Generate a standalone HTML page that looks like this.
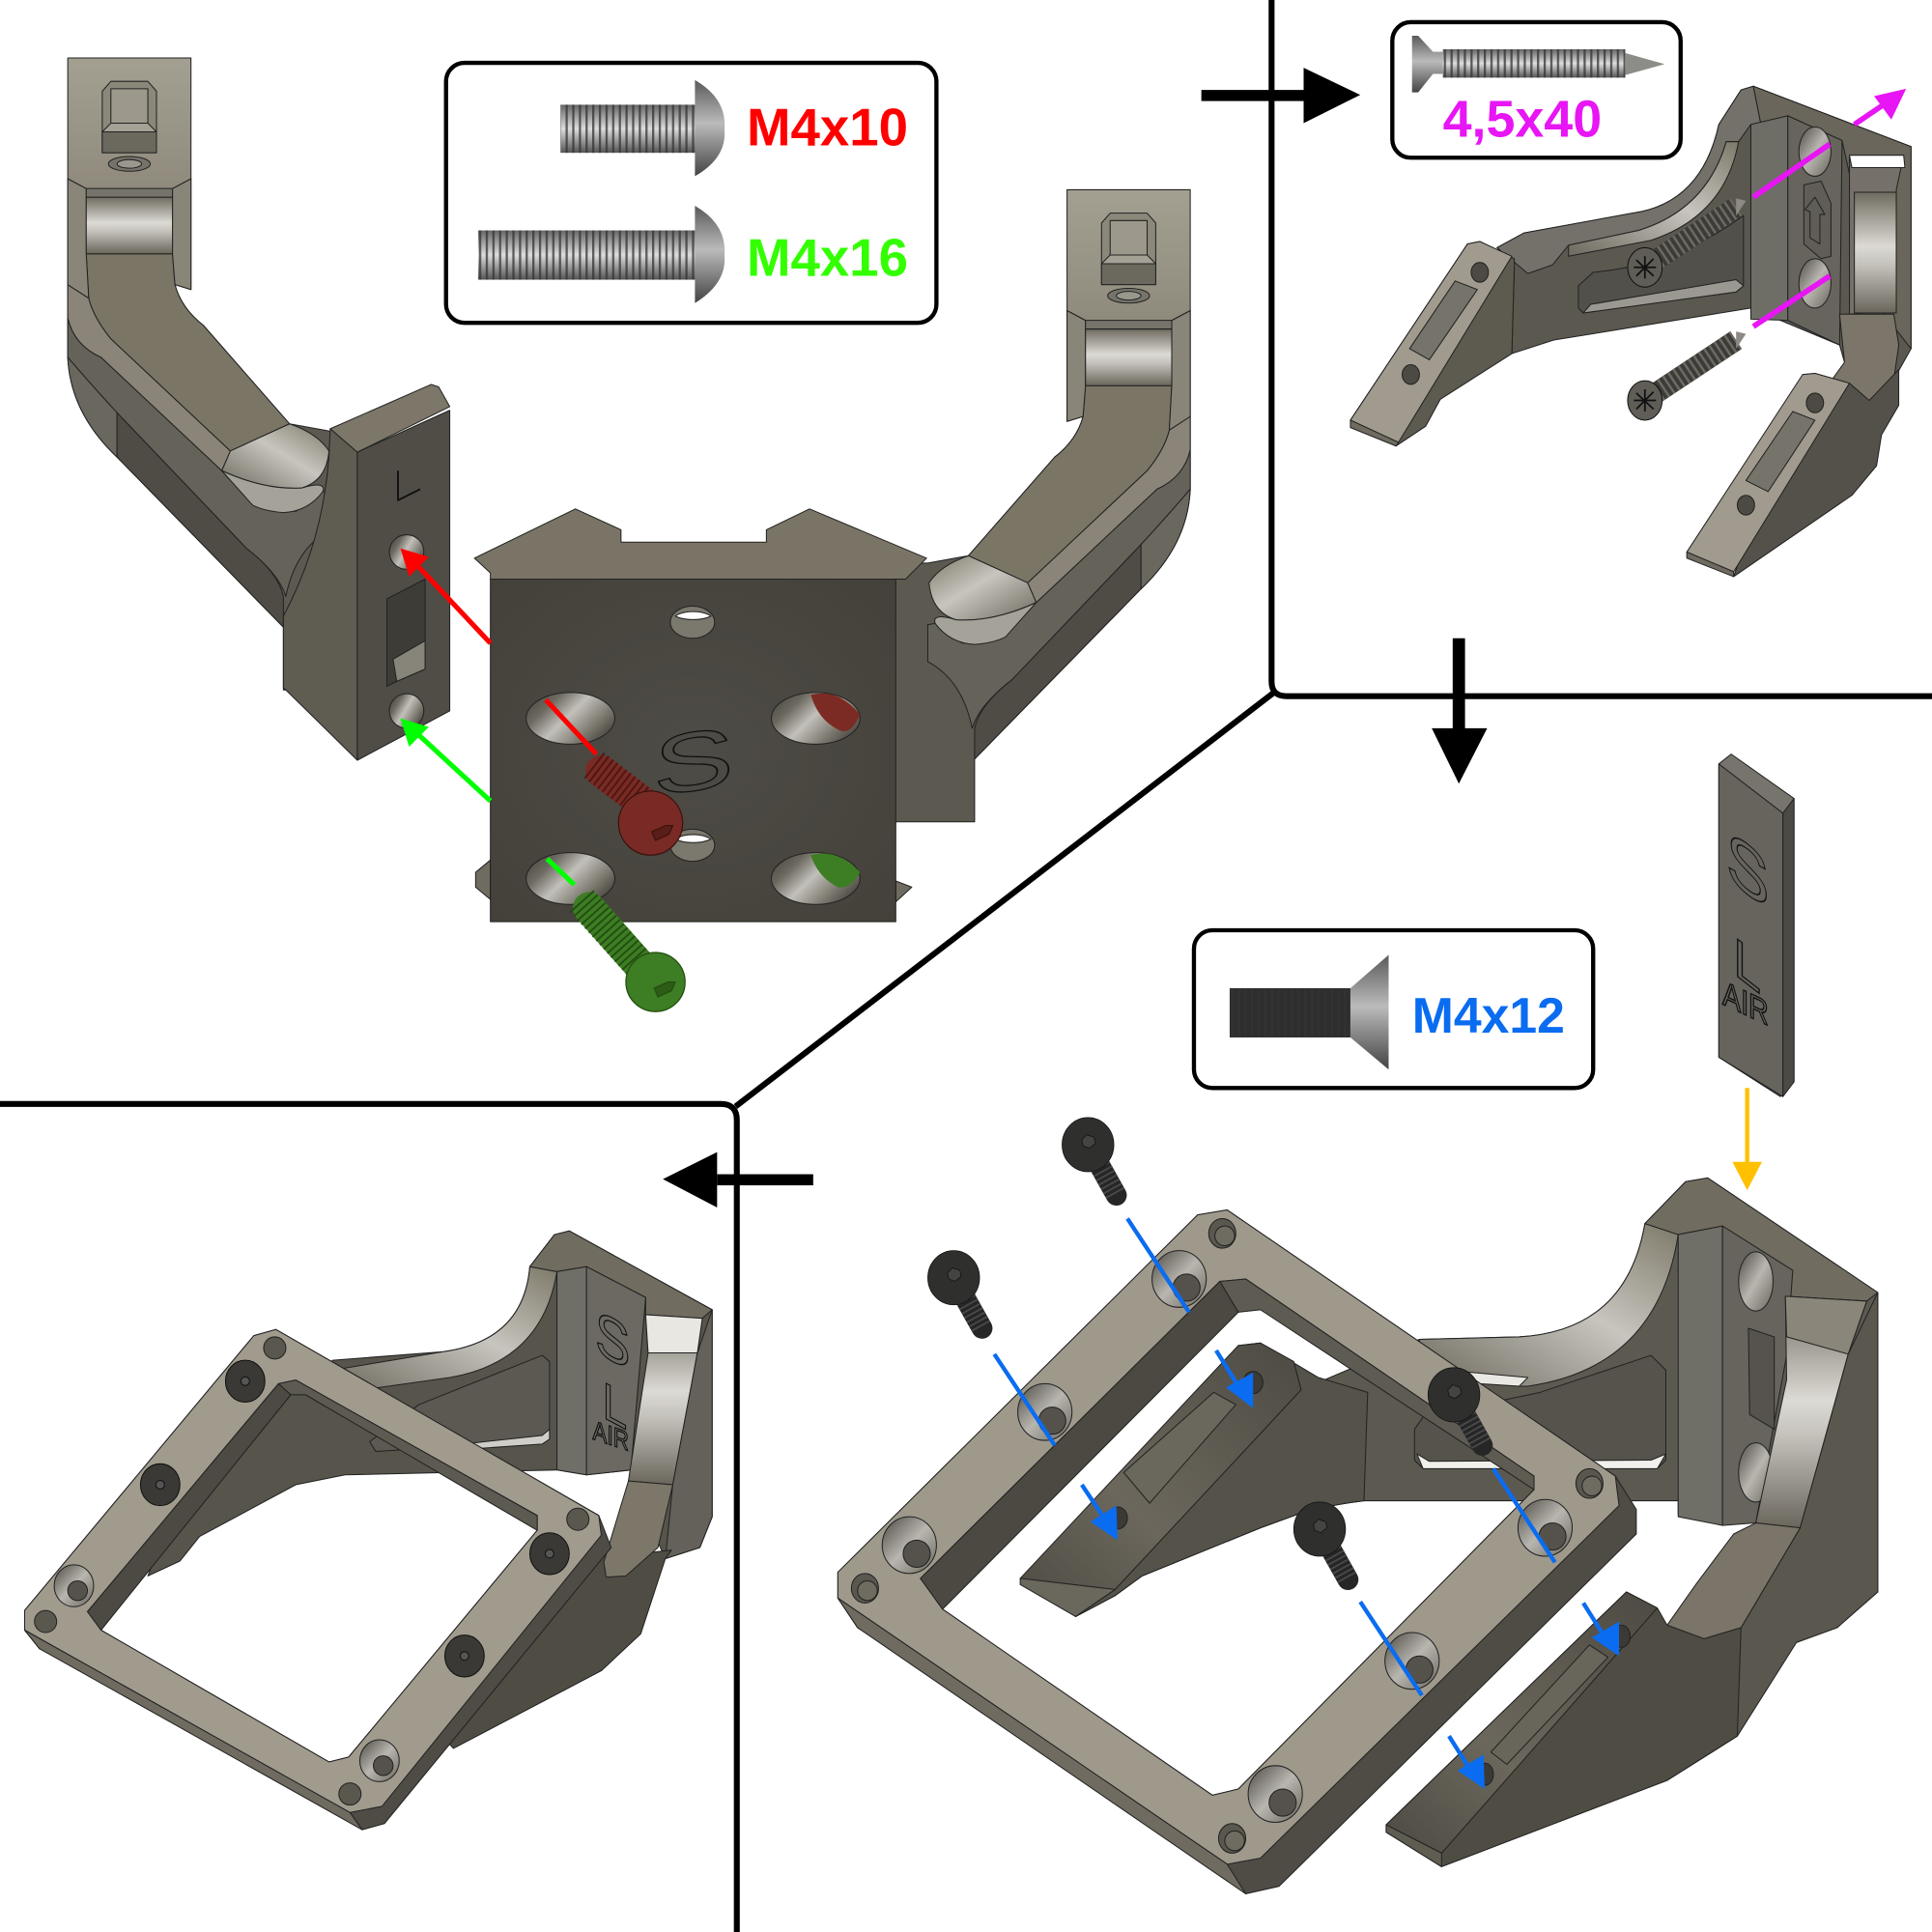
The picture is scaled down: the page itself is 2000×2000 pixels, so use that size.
<!DOCTYPE html>
<html><head><meta charset="utf-8"><title>Assembly diagram</title>
<style>html,body{margin:0;padding:0;background:#fff}svg{display:block}text{font-family:"Liberation Sans",sans-serif}</style>
</head><body>
<svg xmlns="http://www.w3.org/2000/svg" width="2000" height="2000" viewBox="0 0 1568 1568">
<defs>
<linearGradient id="band" x1="0" y1="0" x2="0" y2="1"><stop offset="0" stop-color="#6f6b60"/><stop offset=".45" stop-color="#dcdad4"/><stop offset=".6" stop-color="#c4c2bb"/><stop offset="1" stop-color="#6a665c"/></linearGradient>
<linearGradient id="plate" x1="0" y1="0" x2="0" y2="1"><stop offset="0" stop-color="#a3a092"/><stop offset="1" stop-color="#8f8a7c"/></linearGradient>
<linearGradient id="fil" x1="0" y1="1" x2="1" y2="0"><stop offset="0" stop-color="#6d695e"/><stop offset=".55" stop-color="#c7c5be"/><stop offset="1" stop-color="#7d7969"/></linearGradient>
<linearGradient id="pad" x1="0" y1="1" x2="1" y2="0"><stop offset="0" stop-color="#4d4a43"/><stop offset=".4" stop-color="#6b675c"/><stop offset="1" stop-color="#4d4a43"/></linearGradient>
<linearGradient id="metal" x1="0" y1="0" x2="0" y2="1"><stop offset="0" stop-color="#666"/><stop offset=".5" stop-color="#ddd"/><stop offset="1" stop-color="#555"/></linearGradient>
<linearGradient id="head" x1="0" y1="0" x2="0" y2="1"><stop offset="0" stop-color="#5a5a5a"/><stop offset=".45" stop-color="#bbb"/><stop offset="1" stop-color="#444"/></linearGradient>
<radialGradient id="blk" cx=".5" cy=".5" r=".7"><stop offset="0" stop-color="#4e4c46"/><stop offset="1" stop-color="#434139"/></radialGradient>
<linearGradient id="hole" x1="0" y1="0" x2="1" y2="1"><stop offset="0" stop-color="#4b4942"/><stop offset=".5" stop-color="#b8b6af"/><stop offset="1" stop-color="#68655b"/></linearGradient>
<linearGradient id="hole2" x1="0" y1="0" x2="1" y2=".6"><stop offset="0" stop-color="#3f3d37"/><stop offset=".3" stop-color="#6d6a61"/><stop offset=".55" stop-color="#c2c0ba"/><stop offset=".85" stop-color="#7a776d"/><stop offset="1" stop-color="#55524b"/></linearGradient>
<pattern id="th" width="5.4" height="10" patternUnits="userSpaceOnUse"><rect width="1.8" height="10" fill="#333" opacity=".75"/></pattern>

<g id="arm" stroke="#222" stroke-width=".8" stroke-linejoin="round">
<path d="M55,145 L55,290 Q57,335 95,371 L230,509 L230,560 L300,560 L300,350 L268,350 L235,344 L165,264 Q147,250 142,231 L155,235 L155,145Z" fill="#5c5950"/>
<path d="M55,258 Q60,280 82,290 L180,382 Q205,412 240,415 L262,399 L268,400 L268,430 Q240,445 232,484 Q226,465 200,445 L95,335 Q72,310 55,290Z" fill="#65625a"/>
<path d="M55,290 Q57,335 95,371 L95,335 Q72,310 55,290Z" fill="#6a675e"/>
<path d="M95,335 L95,371 L230,509 L230,484 Q226,465 200,445Z" fill="#4f4c45"/>
<path d="M55,231 L72,242 Q76,258 90,275 L187,366 L180,382 L82,290 Q60,280 55,258Z" fill="#8a8578"/>
<path d="M70,206 L140,206 L142,231 Q147,250 165,264 L235,344 L187,366 L90,275 Q76,258 72,242Z" fill="#7b7566"/>
<path d="M55,145 L70,153 L70,206 L72,242 L55,231Z" fill="#8a8579"/>
<path d="M155,145 L140,153 L140,206 L142,231 L155,235Z" fill="#8a8579"/>
<path d="M187,366 L235,344 Q258,352 267,366 Q265,390 245,396 Q215,398 180,382Z" fill="url(#fil)"/>
<path d="M180,382 Q215,398 245,396 Q265,390 262,399 Q250,415 230,416 Q215,415 205,410Z" fill="#a5a399"/>
<rect x="70" y="160" width="70" height="46" fill="url(#band)"/>
<path d="M55,145 L70,153 L70,160 L140,160 L140,153 L155,145Z" fill="#76736a"/>
<path d="M55,47 L155,47 L155,145 L140,153 L70,153 L55,145Z" fill="url(#plate)"/>
<path d="M83,74 L90,66 L120,66 L127,74 L127,124 L83,124Z" fill="#8b8779"/>
<path d="M90,72 L120,72 L120,100 L90,100Z" fill="#9c988b"/>
<path d="M83,107 L90,100 L120,100 L127,107Z" fill="#a5a195"/>
<path d="M83,107 L127,107 L127,124 L83,124Z" fill="#6b685e"/>
<ellipse cx="105" cy="133" rx="17" ry="6" fill="#76736a"/>
<ellipse cx="105" cy="133" rx="10" ry="3.5" fill="#9a978d"/>
</g>

<g id="bs" stroke="#111" stroke-width=".6">
<path d="M0,0 L23,41" stroke="#262626" stroke-width="17" stroke-linecap="round"/>
<path d="M8,14 L23,41" stroke="#4a4a4a" stroke-width="17" stroke-dasharray="1.4 2.6"/>
<path d="M19,-9 L-19,11 L-1,18 L15,9Z" fill="#2a2a28" stroke="none"/>
<ellipse cx="0" cy="0" rx="21" ry="22" fill="#2f2f2d"/>
<path d="M-5,-4 L-1,-8 L5,-6 L6,-1 L1,3 L-4,1Z" fill="#444442" stroke="#111"/>
</g>

<g id="ps" stroke="#111" stroke-width=".8">
<path d="M0,0 L74,-49" stroke="#3c3b37" stroke-width="17"/>
<path d="M6,-4 L74,-49" stroke="#6c6a63" stroke-width="17" stroke-dasharray="2 3"/>
<path d="M74,-56 L82,-54 L74,-42Z" fill="#8c8a83" stroke="none"/>
<ellipse cx="0" cy="0" rx="14" ry="16" fill="#5f5d56"/>
<path d="M-7,-6 L7,7 M7,-7 L-7,7 M0,-9 L0,9 M-9,0 L9,0" stroke="#111" stroke-width="1.4"/>
</g>

<g id="cs" stroke="#222" stroke-width=".8"><ellipse rx="22" ry="23" fill="url(#hole)"/><ellipse cx="6" cy="7" rx="11" ry="11" fill="#55524b"/></g>
<g id="sh" stroke="#222" stroke-width=".8"><ellipse rx="11" ry="12" fill="#5a574f"/><ellipse cx="2" cy="2" rx="8" ry="8" fill="#6e6b61"/></g>
<g id="head4" stroke="#111" stroke-width=".8"><ellipse rx="16" ry="17" fill="#3a3935"/><circle r="3.5" fill="#555"/></g>
</defs>

<rect width="1568" height="1568" fill="#fff"/>

<!-- panel borders -->
<g fill="none" stroke="#000" stroke-width="4.8">
<path d="M1032,0 L1032,553 Q1032,565 1044,565 L1568,565"/>
<path d="M1034,562 L597,898"/>
<path d="M0,896 L585,896 Q598,896 598,909 L598,1568"/>
</g>
<g fill="#000">
<rect x="975" y="73" width="85" height="9"/><path d="M1058,55 L1104,77 L1058,100Z"/>
<rect x="1179" y="518" width="10" height="75"/><path d="M1162,591 L1207,591 L1184,636Z"/>
<rect x="582" y="953" width="78" height="9"/><path d="M582,935 L538,957 L582,980Z"/>
</g>

<!-- PANEL 1 -->
<use href="#arm" transform="translate(1021,107) scale(-1,1)"/>
<use href="#arm"/>
<g stroke="#222" stroke-width=".8" stroke-linejoin="round">
<path d="M268,348 L350,312 L356,314 L365,330 L290,367Z" fill="#7c7768"/>
<path d="M268,348 L290,367 L290,617 L230,558 L230,500 Q262,440 267,370Z" fill="#5f5c52"/>
<path d="M290,367 L365,333 L365,577 L290,617Z" fill="#4f4d46"/>
<ellipse cx="330" cy="448" rx="14" ry="14" fill="url(#hole2)"/><ellipse cx="330" cy="577" rx="14" ry="14" fill="url(#hole2)"/>
<path d="M314,486 L345,470 L345,543 L322,553 L314,557Z" fill="#3e3c36"/>
<path d="M319,535 L345,520 L345,543 L322,553Z" fill="#87847a"/>
<path d="M323,382 L323,406 L341,397" fill="none" stroke="#111" stroke-width="1.5"/>
<path d="M385,453 L467,413 L504,430 L504,440 L622,440 L622,430 L657,413 L752,453 L735,470 L398,470 L398,465Z" fill="#7a7466"/>
<path d="M386,708 L398,698 L398,730 L386,720Z" fill="#6f6b60"/>
<path d="M727,715 L740,720 L727,732Z" fill="#6f6b60"/>
<rect x="398" y="470" width="329" height="278" fill="url(#blk)"/>
<ellipse cx="562" cy="505" rx="18" ry="13" fill="#7b786d"/><path d="M548,500 A18,9 0 0 1 577,500 A18,7 0 0 1 548,500Z" fill="#fff"/>
<ellipse cx="562" cy="686" rx="18" ry="13" fill="#7b786d"/><path d="M548,681 A18,9 0 0 1 577,681 A18,7 0 0 1 548,681Z" fill="#fff"/>
<ellipse cx="463" cy="583" rx="36" ry="21" fill="url(#hole2)"/>
<ellipse cx="662" cy="583" rx="36" ry="21" fill="url(#hole2)"/>
<ellipse cx="463" cy="713" rx="36" ry="21" fill="url(#hole2)"/>
<ellipse cx="662" cy="713" rx="36" ry="21" fill="url(#hole2)"/>
<path d="M658,564 Q680,558 698,580 Q690,598 680,592 Q664,584 658,564Z" fill="#7c2b24" stroke="none"/>
<path d="M658,694 Q680,688 698,708 Q690,722 680,720 Q664,712 658,694Z" fill="#3d7d23" stroke="none"/>
</g>
<text transform="translate(530,646) skewY(-8) scale(1.45,1)" font-size="68" fill="none" stroke="#111" stroke-width="1">S</text>
<g stroke-width="4" fill="none">
<path d="M398,522 L335,455" stroke="#f00"/><path d="M443,568 L484,612" stroke="#f00"/>
<path d="M398,650 L335,592" stroke="#0f0"/><path d="M444,697 L466,718" stroke="#0f0"/>
</g>
<path d="M325,445 L348,452 L332,468Z" fill="#f00"/><path d="M325,583 L348,590 L332,606Z" fill="#0f0"/>
<path d="M488,626 L525,654" stroke="#7a2a24" stroke-width="26" stroke-linecap="round"/>
<path d="M482,621 L525,654" stroke="#4e1712" stroke-width="26" stroke-dasharray="1.5 3"/>
<ellipse cx="528" cy="668" rx="26" ry="26" fill="#7a2a24" stroke="#3c130f"/><path d="M532,682 L543,677 L546,670 L540,670 L529,675Z" fill="#5a1d18" stroke="#3c130f"/>
<path d="M478,737 L525,790" stroke="#3d7d23" stroke-width="26" stroke-linecap="round"/>
<path d="M472,731 L525,790" stroke="#234e11" stroke-width="26" stroke-dasharray="1.5 3"/>
<ellipse cx="532" cy="797" rx="24" ry="24" fill="#3d7d23" stroke="#234e11"/><path d="M534,809 L545,804 L548,797 L542,797 L531,802Z" fill="#2c5c16" stroke="#234e11"/>

<!-- legend 1 -->
<rect x="362" y="51" width="398" height="211" rx="15" fill="#fff" stroke="#000" stroke-width="3.4"/>
<rect x="455" y="85" width="110" height="39" fill="url(#metal)"/><rect x="455" y="85" width="110" height="39" fill="url(#th)"/>
<path d="M564,65 Q590,80 588,105 Q590,128 564,143Z" fill="url(#head)"/>
<rect x="388" y="187" width="177" height="40" fill="url(#metal)"/><rect x="388" y="187" width="177" height="40" fill="url(#th)"/>
<path d="M564,167 Q590,182 588,207 Q590,230 564,246Z" fill="url(#head)"/>
<text x="606" y="118" font-size="43" font-weight="700" fill="#f00" textLength="131" lengthAdjust="spacingAndGlyphs">M4x10</text>
<text x="606" y="224" font-size="43" font-weight="700" fill="#3f0" textLength="131" lengthAdjust="spacingAndGlyphs">M4x16</text>

<!-- PANEL 2 -->
<rect x="1130" y="18" width="234" height="110" rx="15" fill="#fff" stroke="#000" stroke-width="3.4"/>
<path d="M1146,29 L1151,29 L1163,42 L1171,42 L1171,60 L1163,60 L1151,75 L1146,75Z" fill="url(#head)"/>
<rect x="1171" y="40" width="148" height="23" fill="url(#metal)"/><rect x="1171" y="40" width="148" height="23" fill="url(#th)"/>
<path d="M1319,43 L1351,52 L1319,61Z" fill="#8d8d87"/>
<text x="1171" y="111" font-size="42" font-weight="700" fill="#e815f5" textLength="129" lengthAdjust="spacingAndGlyphs">4,5x40</text>
<g stroke="#222" stroke-width=".8" stroke-linejoin="round">
<path d="M1215,201 L1237,189 L1325,173 Q1381,165 1395,101 L1413,73 L1423,70 L1551,119 L1551,283 L1537,308 L1497,294 L1493,280 L1421,250 L1261,276 L1227,287 L1229,217Z" fill="#5b5850"/>
<path d="M1215,201 L1237,189 L1325,173 Q1381,165 1395,101 L1413,73 L1423,70 L1429,100 L1421,101 L1411,115 L1401,115 Q1385,170 1330,187 L1273,199 L1260,215 L1240,222Z" fill="#74706a"/>
<path d="M1273,199 L1330,187 Q1385,170 1401,115 L1411,115 Q1400,175 1340,195 L1273,208Z" fill="url(#fil)"/>
<path d="M1281,232 L1293,221 Q1360,215 1415,175 L1415,232 L1409,237 L1285,254 L1281,250Z" fill="#52504a"/>
<path d="M1285,254 L1409,237 L1415,232 L1409,227 L1291,247Z" fill="#9a9890"/>
<path d="M1423,70 L1551,119 L1551,283 L1525,250 L1495,114 L1451,94 L1429,100Z" fill="#6a665b"/>
<path d="M1421,101 L1451,94 L1451,260 L1421,259Z" fill="#6e6d66"/>
<path d="M1451,94 L1495,114 L1493,280 L1451,260Z" fill="#66645d"/>
<ellipse cx="1473" cy="123" rx="13" ry="20" fill="url(#hole)"/><ellipse cx="1473" cy="230" rx="13" ry="20" fill="url(#hole)"/>
<path d="M1464,150 L1478,147 L1486,165 L1486,208 L1478,210 L1464,198Z" fill="#5f5d56"/>
<path d="M1473,160 L1481,174 L1477,174 L1477,198 L1469,193 L1469,172 L1465,170Z" fill="none"/>
<path d="M1501,126 L1545,126 L1539,154 L1539,252 L1501,255Z" fill="#75716a"/>
<rect x="1505" y="156" width="34" height="98" fill="url(#band)"/>
<path d="M1501,126 L1545,126 L1546,136 L1503,136Z" fill="#fff"/>
<path d="M1493,255 L1537,255 L1541,280 L1537,308 L1517,325 L1501,325 L1487,308 L1497,294Z" fill="#7b7669"/>
<path d="M1096,341 L1191,198 L1201,196 L1229,210 L1229,217 L1227,287 L1169,324 L1157,346 L1133,362Z" fill="#5d5a50"/>
<path d="M1096,341 L1191,198 L1201,196 L1227,208 L1135,359Z" fill="#a09b8e"/>
<path d="M1096,341 L1096,347 L1133,362 L1135,359Z" fill="#6f6b60"/>
<path d="M1144,283 L1181,228 L1199,235 L1160,292Z" fill="#76736a"/>
<ellipse cx="1201" cy="221" rx="7" ry="8" fill="#4c4a43"/><ellipse cx="1145" cy="304" rx="7" ry="8" fill="#4c4a43"/>
<path d="M1463,304 L1473,303 L1501,311 L1517,325 L1541,300 L1541,329 L1527,353 L1523,378 L1503,402 L1407,468Z" fill="#54514a"/>
<path d="M1369,448 L1463,304 L1473,303 L1501,311 L1407,464Z" fill="#a09b8e"/>
<path d="M1369,448 L1369,453 L1407,468 L1407,464Z" fill="#6f6b60"/>
<path d="M1417,390 L1455,334 L1473,341 L1435,399Z" fill="#76736a"/>
<ellipse cx="1473" cy="327" rx="7" ry="8" fill="#4c4a43"/><ellipse cx="1417" cy="410" rx="7" ry="8" fill="#4c4a43"/>
</g>
<use href="#ps" x="1335" y="217"/>
<use href="#ps" x="1335" y="325"/>
<g stroke="#e815f5" stroke-width="4.4"><path d="M1423,160 L1485,117"/><path d="M1423,265 L1485,224"/><path d="M1505,101 L1530,84"/></g>
<path d="M1547,72 L1521,78 L1535,97Z" fill="#e815f5"/>

<!-- PANEL 3 -->
<rect x="969" y="755" width="324" height="128" rx="15" fill="#fff" stroke="#000" stroke-width="3.4"/>
<rect x="998" y="802" width="98" height="40" fill="#2e2e2e"/><rect x="998" y="802" width="98" height="40" fill="url(#th)"/>
<path d="M1096,802 L1127,775 L1127,868 L1096,842Z" fill="url(#head)"/>
<text x="1146" y="838" font-size="40.5" font-weight="700" fill="#0a6cf0" textLength="124" lengthAdjust="spacingAndGlyphs">M4x12</text>
<g stroke="#222" stroke-width=".8" stroke-linejoin="round">
<path d="M1395,620 L1405,612 L1456,648 L1456,878 L1445,890 L1395,858Z" fill="#76746c"/>
<path d="M1395,620 L1447,660 L1447,890 L1395,858Z" fill="#66645d"/>
<path d="M1447,660 L1456,648 L1456,878 L1447,890Z" fill="#4c4a44"/>
</g>
<text transform="translate(1401,712) skewY(38) scale(.9,1)" font-size="58" fill="none" stroke="#111" stroke-width="1">S</text>
<text transform="translate(1407,790) skewY(38) scale(.9,1)" font-size="44" fill="none" stroke="#111" stroke-width="1.2">L</text>
<text transform="translate(1398,815) skewY(25) scale(.8,1)" font-size="28" fill="none" stroke="#111" stroke-width="1.2">AIR</text>
<path d="M1418,883 L1418,945" stroke="#ffc000" stroke-width="3.4"/><path d="M1406,943 L1430,943 L1418,966Z" fill="#ffc000"/>

<g stroke="#222" stroke-width=".8" stroke-linejoin="round">
<path d="M1152,1087 L1233,1085 Q1320,1080 1335,993 L1368,959 L1386,956 L1524,1049 L1524,1292 L1491,1321 L1458,1333 L1440,1260 L1425,1236 L1362,1229 L1362,1218 L1107,1218 Q1075,1222 1053,1229 L1023,1240 L927,1279 L905,1295 L873,1312 L1056,1128Z" fill="#5c5950"/>
<path d="M1233,1085 Q1320,1080 1335,993 L1362,1002 Q1345,1110 1240,1125 L1233,1125 L1152,1110 L1152,1087Z" fill="url(#fil)"/>
<path d="M1152,1110 L1240,1118 L1233,1125 L1152,1120Z" fill="#e9e8e4"/>
<path d="M1386,956 L1524,1049 L1515,1056 L1449,1052 L1398,995 L1362,1002 L1335,993 L1368,959Z" fill="#716c60"/>
<path d="M1148,1160 L1155,1150 L1250,1130 L1340,1100 L1352,1112 L1352,1185 L1345,1192 L1155,1192 L1148,1185Z" fill="#55534b"/>
<path d="M1150,1180 L1155,1192 L1345,1192 L1352,1180 L1340,1185 L1160,1186Z" fill="#f1f0ec"/>
<path d="M1362,1002 L1398,995 L1398,1238 L1362,1231Z" fill="#6f6e67"/>
<path d="M1398,995 L1455,1031 L1450,1100 L1425,1236 L1398,1238Z" fill="#66645d"/>
<ellipse cx="1425" cy="1040" rx="14" ry="24" fill="url(#hole)"/><ellipse cx="1425" cy="1195" rx="14" ry="24" fill="url(#hole)"/>
<path d="M1419,1078 L1440,1085 L1440,1160 L1420,1148Z" fill="#55534c"/>
<path d="M1449,1052 L1515,1056 L1500,1099 L1461,1240 L1425,1236 L1450,1120Z" fill="url(#band)"/>
<path d="M1449,1052 L1515,1056 L1500,1099 L1450,1085Z" fill="#8a8679"/>
<path d="M1461,1240 L1500,1099 L1524,1049 L1524,1292 L1491,1321 L1458,1333 L1410,1409 L1353,1445 L1300,1380 L1383,1330 L1413,1321Z" fill="#5a574e"/>
<path d="M1425,1236 L1461,1240 L1413,1321 L1383,1330 L1353,1319 L1377,1285 L1407,1245Z" fill="#7a7568"/>
<path d="M1320,1292 L1345,1305 L1353,1319 L1383,1330 L1413,1321 L1410,1409 L1353,1445 L1170,1515 L1125,1487 L1125,1481Z" fill="#4f4c44"/>
<path d="M1125,1481 L1320,1292 L1345,1305 L1170,1504Z" fill="url(#pad)"/>
<path d="M1125,1481 L1125,1487 L1170,1515 L1170,1504Z" fill="#5f5c52"/>
<path d="M1210,1422 L1290,1335 L1305,1345 L1223,1432Z" fill="#68655b"/>
<ellipse cx="1316" cy="1328" rx="7" ry="9" fill="#3c3a35"/><ellipse cx="1205" cy="1440" rx="7" ry="9" fill="#3c3a35"/>
<path d="M1005,1092 L1023,1090 L1070,1118 L1110,1130 L1107,1218 Q1075,1222 1053,1229 L1023,1240 L927,1279 L905,1295 L873,1312Z" fill="#55524a"/>
<path d="M828,1281 L1005,1092 L1023,1090 L1050,1105 L1056,1128 L905,1290 L873,1312Z" fill="url(#pad)"/>
<path d="M828,1281 L828,1286 L873,1312 L905,1290Z" fill="#6a675c"/>
<path d="M912,1195 L985,1130 L1003,1140 L933,1220Z" fill="#6a675c"/>
<ellipse cx="1017" cy="1122" rx="8" ry="9" fill="#3c3a35"/><ellipse cx="907" cy="1232" rx="8" ry="9" fill="#3c3a35"/>
<path fill-rule="evenodd" d="M972,986 L996,982 L1311,1198 L1328,1225 L1328,1245 L1038,1531 L1011,1537 L993,1513 L696,1321 L680,1297 L680,1276Z M990,1040 L1011,1038 L1245,1198 L1245,1209 L1005,1452 L984,1457 L765,1306 L747,1281Z" fill="#4f4c45"/>
<path d="M972,986 L996,982 L1311,1198 L1314,1222 L1023,1508 L996,1513 L680,1297 L680,1276Z M990,1040 L747,1281 L765,1306 L984,1457 L1005,1452 L1245,1209 L1245,1198 L1011,1038Z" fill="#9f998c" fill-rule="evenodd"/>
<path d="M680,1297 L696,1321 L1011,1537 L996,1513Z" fill="#6f6b60"/>
<path d="M990,1040 L1011,1038 L1245,1198 L1245,1209 L1023,1063 L1005,1065Z" fill="#5e5b52"/>
<path d="M990,1040 L1005,1065 L765,1306 L747,1281Z" fill="#4b4942"/>
</g>
<use href="#cs" x="957" y="1038"/><use href="#cs" x="848" y="1146"/><use href="#cs" x="738" y="1254"/>
<use href="#cs" x="1254" y="1240"/><use href="#cs" x="1146" y="1348"/><use href="#cs" x="1035" y="1456"/>
<use href="#sh" x="992" y="1001"/><use href="#sh" x="702" y="1289"/><use href="#sh" x="1290" y="1204"/><use href="#sh" x="1000" y="1492"/>
<use href="#bs" x="883" y="929"/><use href="#bs" x="774" y="1037"/><use href="#bs" x="1180" y="1132"/><use href="#bs" x="1071" y="1241"/>
<g stroke="#0a6cf0" stroke-width="3.4">
<path d="M915,989 L965,1065"/><path d="M807,1099 L856,1173"/><path d="M1212,1192 L1262,1268"/><path d="M1104,1300 L1154,1376"/>
<path d="M987,1096 L1005,1125"/><path d="M878,1205 L896,1232"/><path d="M1285,1301 L1302,1328"/><path d="M1176,1409 L1193,1436"/>
</g>
<g fill="#0a6cf0">
<path d="M1017,1143 L995,1126 L1017,1114Z"/><path d="M907,1250 L885,1235 L906,1222Z"/>
<path d="M1314,1344 L1292,1329 L1314,1316Z"/><path d="M1205,1452 L1183,1437 L1204,1424Z"/>
</g>

<!-- PANEL 4 -->
<g stroke="#222" stroke-width=".8" stroke-linejoin="round">
<path d="M270,1104 L360,1097 Q425,1088 430,1028 L450,1002 L462,999 L578,1063 L578,1231 L568,1256 L540,1265 L520,1220 L512,1193 L476,1197 L452,1193 L280,1197 L240,1205 L162,1247 L146,1267 L120,1279 L150,1200Z" fill="#57544b"/>
<path d="M360,1097 Q425,1088 430,1028 L452,1032 Q440,1105 365,1118 L280,1130 L270,1112Z" fill="url(#fil)"/>
<path d="M430,1028 L450,1002 L462,999 L578,1063 L570,1070 L524,1067 L524,1053 L476,1028 L452,1032Z" fill="#716c60"/>
<path d="M300,1170 L340,1140 L440,1100 L446,1105 L446,1165 L440,1170 L305,1178Z" fill="#5b5951"/>
<path d="M385,1171 L440,1165 L446,1160 L446,1168 L440,1172 L382,1176Z" fill="#cfcec8"/>
<path d="M452,1032 L476,1028 L476,1197 L452,1193Z" fill="#6f6e67"/>
<path d="M476,1028 L524,1053 L512,1193 L476,1197Z" fill="#6b6962"/>
<path d="M524,1067 L570,1070 L566,1098 L546,1205 L510,1202 L526,1098Z" fill="url(#band)"/>
<path d="M524,1067 L570,1070 L566,1098 L526,1098Z" fill="#e8e7e2"/>
<path d="M546,1205 L566,1098 L578,1063 L578,1231 L568,1256 L540,1265Z" fill="#64615a"/>
<path d="M490,1250 L510,1262 L545,1258 L540,1265 L520,1326 L488,1356 L368,1419 L355,1405Z" fill="#4f4c44"/>
<path d="M510,1202 L546,1205 L534,1256 L508,1279 L492,1280 L490,1268Z" fill="#7c7769"/>
<path fill-rule="evenodd" d="M206,1084 L224,1079 L486,1230 L496,1256 L312,1480 L294,1485 L284,1471 L32,1338 L20,1323 L20,1307Z M226,1123 L240,1120 L436,1230 L436,1242 L283,1426 L267,1430 L82,1323 L71,1308Z" fill="#4f4c45"/>
<path fill-rule="evenodd" d="M206,1084 L224,1079 L486,1230 L488,1246 L310,1466 L284,1471 L20,1323 L20,1307Z M226,1123 L71,1308 L82,1323 L267,1430 L283,1426 L436,1242 L436,1230 L240,1120Z" fill="#a19b8e"/>
<path d="M20,1323 L32,1338 L294,1485 L284,1471Z" fill="#6f6b60"/>
<path d="M240,1120 L436,1230 L436,1242 L248,1132 L236,1132 L226,1123Z" fill="#5d5a51"/>
<path d="M226,1123 L236,1132 L82,1323 L71,1308Z" fill="#4c4a43"/>
</g>
<use href="#head4" x="199" y="1121"/><use href="#head4" x="130" y="1205"/><use href="#head4" x="446" y="1261"/><use href="#head4" x="377" y="1344"/>
<g stroke="#222" stroke-width=".8"><ellipse cx="60" cy="1287" rx="16" ry="17" fill="url(#hole)"/><ellipse cx="63" cy="1291" rx="8" ry="8" fill="#55524b"/><ellipse cx="308" cy="1429" rx="16" ry="17" fill="url(#hole)"/><ellipse cx="311" cy="1433" rx="8" ry="8" fill="#55524b"/></g>
<g stroke="#222" stroke-width=".8" fill="#5a574f"><ellipse cx="223" cy="1094" rx="9" ry="9"/><ellipse cx="37" cy="1316" rx="9" ry="9"/><ellipse cx="469" cy="1233" rx="9" ry="9"/><ellipse cx="284" cy="1456" rx="9" ry="9"/></g>
<text transform="translate(483,1097) skewY(28) scale(.85,1)" font-size="50" fill="none" stroke="#111" stroke-width="1">S</text>
<text transform="translate(489,1150) skewY(28) scale(.85,1)" font-size="42" fill="none" stroke="#111" stroke-width="1">L</text>
<text transform="translate(481,1168) skewY(18) scale(.8,1)" font-size="22" fill="none" stroke="#111" stroke-width="1">AIR</text>
</svg>
</body></html>
